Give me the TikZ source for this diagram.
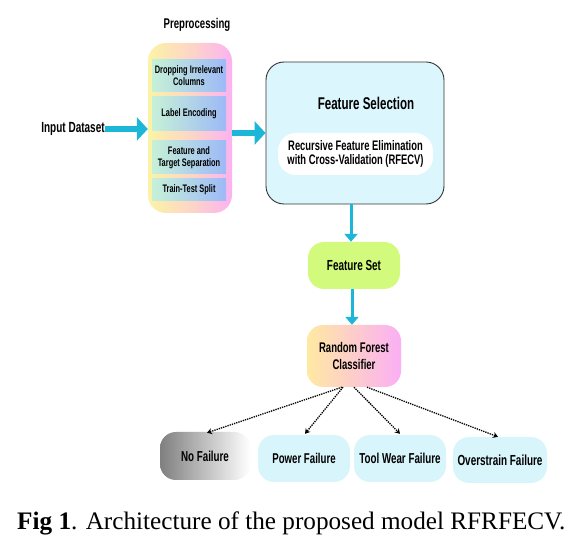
\documentclass[tikz,border=0pt]{standalone}
\usepackage{fontspec}
\setmainfont{Liberation Serif}
\newfontfamily\cf[FakeStretch=0.68]{Liberation Sans}
\usetikzlibrary{arrows.meta,calc}
\definecolor{cyanarrow}{HTML}{1CB6D8}
\definecolor{fsfill}{HTML}{DCF6FD}
\definecolor{outfill}{HTML}{D9F5FC}
\definecolor{lime}{HTML}{D2FA7C}
\definecolor{pyellow}{HTML}{FCF3A6}
\definecolor{ppeach}{HTML}{FDD6C6}
\definecolor{ppink}{HTML}{FBB2F1}
\definecolor{imint}{HTML}{C6F1D8}
\definecolor{iblue}{HTML}{9DB9F6}
\definecolor{rfyellow}{HTML}{FFE9A2}
\definecolor{rfpink}{HTML}{FBAFF5}
\tikzset{
  lbl/.style={font=\cf\bfseries\fontsize{#1}{#1}\selectfont, align=center, text=black},
  lbl/.default=11,
  innerbox/.style={left color=imint, right color=iblue, minimum width=74pt, inner sep=0pt, align=center},
  outbox/.style={fill=outfill, rounded corners=16pt, minimum width=92pt, minimum height=47pt, inner sep=0pt},
  bigarrow/.style={draw=cyanarrow, line width=6pt, -{Triangle[width=23pt,length=11pt]}},
  midarrow/.style={draw=cyanarrow, line width=3pt, -{Triangle[width=13pt,length=8pt]}},
  dotarrow/.style={draw=black, densely dotted, line width=1.3pt, -{Stealth[width=6pt,length=5pt]}},
}
\begin{document}
\begin{tikzpicture}[x=1pt,y=-1pt]
\useasboundingbox (0,0) rectangle (574,548);
% preprocessing
\node[lbl=14.1] (ptitle) at (197,25) {Preprocessing};
\node[left color=pyellow, right color=ppink, middle color=ppeach, rounded corners=18pt,
      minimum width=84pt, minimum height=170pt, inner sep=0pt] (prep) at (190,128) {};
\node[innerbox, minimum height=32pt, lbl=10.9] (d1) at (189,76) {Dropping Irrelevant\\[1pt]Columns};
\node[innerbox, minimum height=34pt, lbl=10.9] (d2) at (189,114) {Label Encoding};
\node[innerbox, minimum height=33pt, lbl=10.9] (d3) at (189,157.5) {Feature and\\[1pt]Target Separation};
\node[innerbox, minimum height=22pt, lbl=10.9] (d4) at (189,190) {Train-Test Split};
% input
\node[lbl=14.7, inner sep=0pt] (in) at (73,129) {Input Dataset};
\draw[bigarrow] (in.east) -- (in.east -| prep.west);
% feature selection
\node[draw=black!80, line width=0.9pt, fill=fsfill, rounded corners=18pt,
      minimum width=178pt, minimum height=142pt, inner sep=0pt] (fs) at (355,133) {};
\draw[bigarrow] (prep.east |- fs.west) -- (fs.west);
\node[lbl=17] (fst) at (366,103) {Feature Selection};
\node[fill=white, rounded corners=18pt, minimum width=155pt, minimum height=42pt,
      inner sep=0pt, lbl=13.8] (rfecv) at (355.5,154) {Recursive Feature Elimination\\[1pt]with Cross-Validation (RFECV)};
% feature set
\node[fill=lime, rounded corners=16pt, minimum width=92pt, minimum height=47pt,
      inner sep=0pt, lbl=14.6] (fset) at (354,265.5) {Feature Set};
\draw[midarrow] (fs.south -| 351,0) -- (fset.north -| 351,0);
% random forest
\node[left color=rfyellow, right color=rfpink, rounded corners=16pt, minimum width=94pt,
      minimum height=62pt, inner sep=0pt, lbl=14] (rf) at (354,356) {Random Forest\\[3pt]Classifier};
\draw[midarrow] (fset.south -| 352,0) -- (rf.north -| 352,0);
% outputs
\node[outbox, left color=black!50, right color=white, minimum width=90pt, minimum height=48pt, lbl=14.4] (nf) at (205,456) {No Failure};
\node[outbox, lbl=14.2] (pf) at (304,458.5) {Power Failure};
\node[outbox, lbl=14.4] (tw) at (400,458.5) {Tool Wear Failure};
\node[outbox, minimum width=94pt, minimum height=46pt, lbl=14.6] (of) at (500,460) {Overstrain Failure};
\draw[dotarrow] ($(rf.south)+(-12,0)$) -- ($(nf.north)+(2,1)$);
\draw[dotarrow] ($(rf.south)+(-11,0)$) -- ($(pf.north)+(1,-1)$);
\draw[dotarrow] ($(rf.south)+(0,0)$) -- ($(tw.north)+(0,-1)$);
\draw[dotarrow] ($(rf.south)+(13,0)$) -- ($(of.north)+(-2,0)$);
% caption
\node[anchor=base west, inner sep=0pt, font=\fontsize{25.2}{25}\selectfont] (cap) at (17,530) {\textbf{Fig 1}. Architecture of the proposed model RFRFECV.};
\end{tikzpicture}
\end{document}
